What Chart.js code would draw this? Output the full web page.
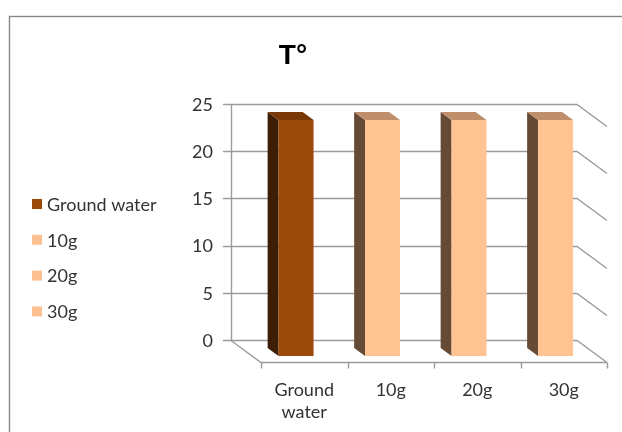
<!DOCTYPE html>
<html>
<head>
<meta charset="utf-8">
<script src="https://cdn.jsdelivr.net/npm/chart.js@4.4.1/dist/chart.umd.min.js"></script>
<style>
  html, body { margin: 0; padding: 0; background: #ffffff; }
  #wrap { width: 622px; height: 432px; }
</style>
</head>
<body>
<div id="wrap"><canvas id="chart" width="622" height="432"></canvas></div>
<script>
// Temperature readings per sample
const categories = ['Ground water', '10g', '20g', '30g'];
const categoryTickLabels = [['Ground', 'water'], ['10g'], ['20g'], ['30g']];
const temperatureValues = [25, 25, 25, 25];
const yTickValues = [0, 5, 10, 15, 20, 25];
const chartTitle = 'T°';

// Face colours for each column (front / left side / top) and legend swatches
const frontColors = ['#9c4a0b', '#ffc491', '#ffc491', '#ffc491'];
const sideColors  = ['#3e1d06', '#654b36', '#654b36', '#654b36'];
const topColors   = ['#7a3706', '#bf8f6c', '#bf8f6c', '#bf8f6c'];
const legendColors = ['#9a4a0a', '#fbc193', '#fbc193', '#fbc193'];

// Oblique depth of the plot box and the slab a column occupies inside it
const DEPTH = { dx: 30, dy: 22 };
const COL_BACK = { dx: 10.9, dy: 8 };
const COL_FRONT = { dx: 21.8, dy: 16 };

const LABEL_FONT = '18px Lato, "Open Sans", sans-serif';
const TEXT_COLOR = '#333333';
const LINE_COLOR = '#9b9b9b';

const box3d = {
  id: 'box3d',
  beforeDatasetsDraw(chart) {
    const ctx = chart.ctx;
    const area = chart.chartArea;
    const ys = chart.scales.y;
    const xs = chart.scales.x;
    ctx.save();

    // outer frame
    ctx.strokeStyle = '#878787';
    ctx.lineWidth = 1.4;
    ctx.strokeRect(9.5, 16.5, 700, 500);

    // title
    ctx.fillStyle = '#000000';
    ctx.font = 'bold 28px "Liberation Sans", Arial, sans-serif';
    ctx.textAlign = 'center';
    ctx.textBaseline = 'middle';
    ctx.fillText(chartTitle, 293, 56);

    // legend
    ctx.font = LABEL_FONT;
    ctx.textAlign = 'left';
    categories.forEach((name, i) => {
      const cy = 204 + i * 35.8;
      ctx.fillStyle = legendColors[i];
      ctx.fillRect(32, cy - 5, 10, 10);
      ctx.fillStyle = TEXT_COLOR;
      ctx.fillText(name, 47, cy + 1);
    });

    // gridlines on the back wall, carried round the right wall
    ctx.strokeStyle = LINE_COLOR;
    ctx.lineWidth = 1.4;
    yTickValues.forEach(v => {
      const y = Math.round(ys.getPixelForValue(v)) + 0.5;
      ctx.beginPath();
      ctx.moveTo(area.left - 8, y);
      ctx.lineTo(area.right, y);
      ctx.lineTo(area.right + DEPTH.dx, y + DEPTH.dy);
      ctx.stroke();
    });

    // vertical axis line
    const ax = Math.round(area.left) + 0.5;
    ctx.beginPath();
    ctx.moveTo(ax, ys.getPixelForValue(yTickValues[yTickValues.length - 1]));
    ctx.lineTo(ax, ys.getPixelForValue(0));
    ctx.stroke();

    // floor: left diagonal and front edge
    const y0 = Math.round(ys.getPixelForValue(0)) + 0.5;
    ctx.beginPath();
    ctx.moveTo(area.left, y0);
    ctx.lineTo(area.left + DEPTH.dx, y0 + DEPTH.dy);
    ctx.lineTo(area.right + DEPTH.dx, y0 + DEPTH.dy);
    ctx.stroke();

    // category ticks along the front edge
    const half = (xs.getPixelForValue(1) - xs.getPixelForValue(0)) / 2;
    for (let i = 0; i <= categories.length; i++) {
      const tx = Math.round(xs.getPixelForValue(0) - half + i * 2 * half + DEPTH.dx) + 0.5;
      ctx.beginPath();
      ctx.moveTo(tx, y0 + DEPTH.dy);
      ctx.lineTo(tx, y0 + DEPTH.dy + 6);
      ctx.stroke();
    }

    // value labels
    ctx.fillStyle = TEXT_COLOR;
    ctx.font = LABEL_FONT;
    ctx.textAlign = 'right';
    yTickValues.forEach(v => {
      ctx.fillText(String(v), area.left - 18, ys.getPixelForValue(v) + 1);
    });

    // category labels
    ctx.textAlign = 'center';
    categoryTickLabels.forEach((lines, i) => {
      const cx = xs.getPixelForValue(i) + DEPTH.dx;
      lines.forEach((t, j) => {
        ctx.fillText(t, cx, y0 + DEPTH.dy + 28 + j * 21.5);
      });
    });

    // left side and top faces of the columns
    const meta = chart.getDatasetMeta(0);
    meta.data.forEach((el, i) => {
      const p = el.getProps(['x', 'y', 'base', 'width'], true);
      const xl = p.x - p.width / 2, xr = p.x + p.width / 2;
      ctx.fillStyle = sideColors[i];
      ctx.beginPath();
      ctx.moveTo(xl + COL_BACK.dx, p.y + COL_BACK.dy);
      ctx.lineTo(xl + COL_FRONT.dx, p.y + COL_FRONT.dy);
      ctx.lineTo(xl + COL_FRONT.dx, p.base + COL_FRONT.dy);
      ctx.lineTo(xl + COL_BACK.dx, p.base + COL_BACK.dy);
      ctx.closePath();
      ctx.fill();
      ctx.fillStyle = topColors[i];
      ctx.beginPath();
      ctx.moveTo(xl + COL_BACK.dx, p.y + COL_BACK.dy);
      ctx.lineTo(xr + COL_BACK.dx, p.y + COL_BACK.dy);
      ctx.lineTo(xr + COL_FRONT.dx, p.y + COL_FRONT.dy);
      ctx.lineTo(xl + COL_FRONT.dx, p.y + COL_FRONT.dy);
      ctx.closePath();
      ctx.fill();
    });
    ctx.restore();

    // front faces are drawn by the bar controller, shifted to the front slab
    ctx.save();
    ctx.translate(COL_FRONT.dx, COL_FRONT.dy);
  },
  afterDatasetsDraw(chart) {
    chart.ctx.restore();
  }
};

new Chart(document.getElementById('chart'), {
  type: 'bar',
  data: {
    labels: categories,
    datasets: [{
      label: chartTitle,
      data: temperatureValues,
      backgroundColor: frontColors,
      borderWidth: 0,
      categoryPercentage: 1,
      barPercentage: 0.405,
      clip: false
    }]
  },
  options: {
    responsive: false,
    animation: false,
    devicePixelRatio: 1,
    layout: { padding: { left: 231, top: 104, right: 45, bottom: 92 } },
    scales: {
      x: { display: false },
      y: { display: false, min: 0, max: 25, ticks: { stepSize: 5 } }
    },
    plugins: {
      legend: { display: false },
      title: { display: false },
      tooltip: { enabled: false }
    }
  },
  plugins: [box3d]
});
</script>
</body>
</html>
